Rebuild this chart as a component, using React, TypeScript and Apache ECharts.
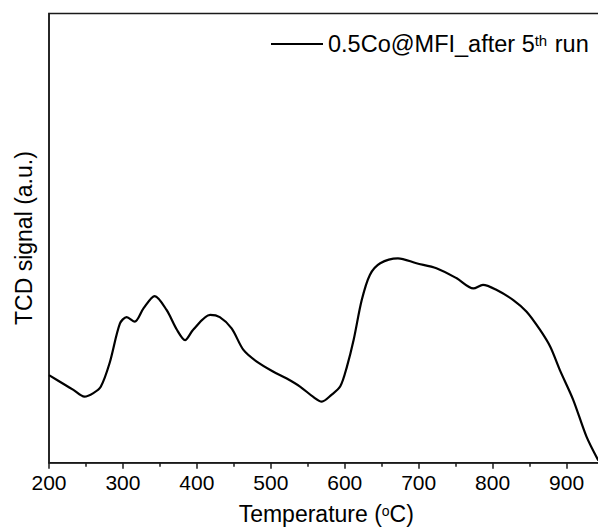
import React, { useEffect, useRef } from "react";
import * as echarts from "echarts";

const temperatures = [200, 222, 233, 248, 260, 270, 282, 296, 305, 316, 328, 343, 359, 373, 384, 395, 418, 431, 447, 463, 481, 503, 521, 540, 557, 569, 582, 594, 603, 612, 623, 634, 648, 672, 697, 724, 751, 774, 787, 805, 828, 846, 864, 878, 891, 909, 927, 943];
const tcdSignal = [19.5, 17.3, 16.2, 14.7, 15.5, 16.9, 22.2, 31, 32.4, 31.4, 34.4, 37.1, 34, 29.6, 27.3, 29.6, 32.9, 32.4, 29.9, 25.1, 22.5, 20.3, 18.8, 16.9, 14.7, 13.6, 15.1, 17, 21.4, 27.3, 36.2, 41.8, 44.4, 45.5, 44.4, 43.3, 41.1, 38.8, 39.6, 38.5, 36.2, 33.6, 29.6, 25.8, 20.6, 14, 5.8, 0.5];
const seriesName = "0.5Co@MFI_after 5th run";
const xTicks = { min: 200, max: 950, interval: 100 };

const FONT = "'Liberation Sans', Arial, sans-serif";

export default function App() {
  const ref = useRef<HTMLDivElement>(null);
  useEffect(() => {
    if (!ref.current) return;
    const chart = echarts.init(ref.current, null, { renderer: "svg" });
    const data = temperatures.map((t, i) => [t, tcdSignal[i]]);
    chart.setOption({
      animation: false,
      backgroundColor: "#fff",
      grid: {
        left: 49,
        top: 13.5,
        right: -5.5,
        bottom: 66.3,
        show: true,
        borderColor: "#1a1a1a",
        borderWidth: 1.5,
        containLabel: false,
        outerBoundsMode: "none",
      },
      legend: {
        left: 271,
        top: 32,
        padding: 0,
        itemWidth: 52,
        itemHeight: 2,
        icon: "rect",
        data: [seriesName],
        formatter: () => "0.5Co@MFI_after 5{sup|th} run",
        textStyle: {
          fontFamily: FONT,
          fontSize: 23.5,
          color: "#000",
          rich: {
            sup: { fontFamily: FONT, fontSize: 15, color: "#000", verticalAlign: "top", padding: [1, 1, 0, 0] },
          },
        },
      },
      xAxis: {
        type: "value",
        min: xTicks.min,
        max: xTicks.max,
        interval: xTicks.interval,
        splitLine: { show: false },
        axisLine: { lineStyle: { color: "#1a1a1a", width: 1.5 } },
        axisTick: { show: true, length: 6, lineStyle: { color: "#1a1a1a", width: 1.5 } },
        minorTick: { show: true, splitNumber: 2, length: 4, lineStyle: { color: "#1a1a1a", width: 1.5 } },
        axisLabel: { fontFamily: FONT, fontSize: 21, color: "#000", margin: 9, showMaxLabel: false },
        name: "Temperature ({sup|o}C)",
        nameLocation: "middle",
        nameGap: 40,
        nameTextStyle: {
          fontFamily: FONT,
          fontSize: 23,
          color: "#000",
          rich: {
            sup: { fontFamily: FONT, fontSize: 14, color: "#000", verticalAlign: "top", padding: [1, 0, 0, 0] },
          },
        },
      },
      yAxis: {
        type: "value",
        min: 0,
        max: 100,
        splitLine: { show: false },
        axisLine: { show: true, lineStyle: { color: "#1a1a1a", width: 1.5 } },
        axisTick: { show: false },
        axisLabel: { show: false },
        name: "TCD signal (a.u.)",
        nameLocation: "middle",
        nameGap: 14,
        nameTextStyle: { fontFamily: FONT, fontSize: 23, color: "#000" },
      },
      series: [
        {
          name: seriesName,
          type: "line",
          data,
          smooth: 0.3,
          showSymbol: false,
          lineStyle: { color: "#000", width: 2.2 },
          itemStyle: { color: "#000" },
        },
      ],
    });
    return () => chart.dispose();
  }, []);
  return (
    <div
      ref={ref}
      style={{ position: "fixed", left: 0, top: 0, width: 598, height: 529, overflow: "hidden" }}
    />
  );
}
